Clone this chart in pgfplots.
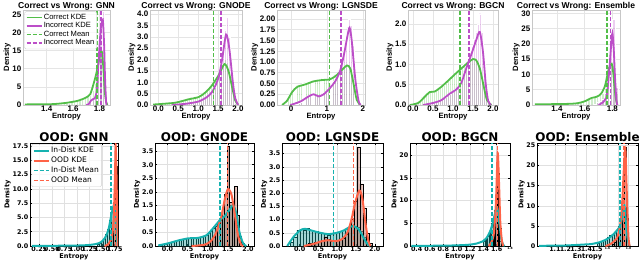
\documentclass[border=0pt]{standalone}
\usepackage{pgfplots}
\usepackage{pgfplotstable}
\pgfplotsset{compat=1.18}
\usepackage{fontspec}
\setmainfont{Liberation Sans}
\newfontfamily\dejavu{DejaVu Sans}
\definecolor{cgreen}{RGB}{82,190,72}
\definecolor{cmag}{RGB}{188,78,200}
\definecolor{cteal}{RGB}{22,178,176}
\definecolor{corange}{RGB}{255,99,71}

% ---------- histogram tables (bin left edge, series A, series B) ----------
\pgfplotstableread{
x g m
1.50 0.3 0
1.52 0.4 0
1.54 0.5 0
1.56 0.6 0
1.58 0.8 0
1.60 1.0 0
1.62 1.2 0
1.64 1.5 0
1.66 1.8 0
1.68 2.0 0
1.70 2.4 0.5
1.72 2.8 1.0
1.74 4.0 1.5
1.76 6.0 2.0
1.78 10.0 8.0
1.80 16.0 20.0
1.82 12.0 26.0
1.84 2.0 3.0
}\hTopGNN
\pgfplotstableread{
x g m
-0.10 0.02 0
-0.05 0.03 0
0.00 0.05 0
0.05 0.05 0
0.10 0.06 0
0.15 0.08 0
0.20 0.10 0
0.25 0.10 0
0.30 0.12 0
0.35 0.13 0.01
0.40 0.15 0.02
0.45 0.18 0.03
0.50 0.20 0.04
0.55 0.22 0.05
0.60 0.24 0.06
0.65 0.26 0.07
0.70 0.28 0.08
0.75 0.30 0.10
0.80 0.32 0.11
0.85 0.33 0.12
0.90 0.36 0.14
0.95 0.38 0.16
1.00 0.42 0.18
1.05 0.46 0.22
1.10 0.52 0.27
1.15 0.60 0.33
1.20 0.68 0.40
1.25 0.78 0.47
1.30 0.88 0.55
1.35 0.95 0.65
1.40 1.05 0.80
1.45 1.20 1.00
1.50 1.40 1.35
1.55 1.60 1.90
1.60 1.85 2.60
1.65 2.00 3.30
1.70 1.90 3.85
1.75 1.50 3.00
1.80 1.00 1.60
1.85 0.40 0.60
1.90 0.10 0.10
}\hTopGNODE
\pgfplotstableread{
x g m
-0.20 0.05 0
-0.15 0.10 0
-0.10 0.15 0
-0.05 0.25 0
0.00 0.30 0
0.05 0.35 0
0.10 0.40 0
0.15 0.45 0.03
0.20 0.47 0.05
0.25 0.48 0.07
0.30 0.50 0.10
0.35 0.52 0.14
0.40 0.50 0.18
0.45 0.53 0.22
0.50 0.55 0.25
0.55 0.56 0.27
0.60 0.57 0.25
0.65 0.58 0.22
0.70 0.60 0.20
0.75 0.58 0.22
0.80 0.60 0.24
0.85 0.62 0.27
0.90 0.60 0.30
0.95 0.62 0.35
1.00 0.63 0.40
1.05 0.62 0.45
1.10 0.65 0.50
1.15 0.68 0.55
1.20 0.70 0.62
1.25 0.72 0.70
1.30 0.75 0.80
1.35 0.80 0.95
1.40 0.85 1.10
1.45 0.90 1.30
1.50 0.95 1.55
1.55 0.98 1.80
1.60 0.95 2.00
1.65 0.85 1.85
1.70 0.60 1.40
1.75 0.35 0.80
1.80 0.12 0.30
1.85 0.03 0.08
}\hTopLGNSDE
\pgfplotstableread{
x g m
0.00 0.03 0
0.05 0.05 0
0.10 0.08 0
0.15 0.12 0
0.20 0.18 0
0.25 0.22 0
0.30 0.27 0.02
0.35 0.30 0.03
0.40 0.32 0.04
0.45 0.34 0.05
0.50 0.33 0.06
0.55 0.35 0.08
0.60 0.38 0.10
0.65 0.42 0.12
0.70 0.46 0.14
0.75 0.50 0.17
0.80 0.55 0.20
0.85 0.60 0.24
0.90 0.65 0.28
0.95 0.70 0.33
1.00 0.75 0.38
1.05 0.80 0.42
1.10 0.85 0.48
1.15 0.90 0.56
1.20 0.95 0.68
1.25 1.00 0.82
1.30 1.05 0.98
1.35 1.10 1.15
1.40 1.15 1.30
1.45 1.18 1.45
1.50 1.15 1.62
1.55 1.10 1.80
1.60 1.00 2.00
1.65 0.85 2.25
1.70 0.60 1.80
1.75 0.35 1.00
1.80 0.15 0.40
1.85 0.05 0.10
}\hTopBGCN
\pgfplotstableread{
x g m
1.50 0.4 0
1.52 0.5 0
1.54 0.6 0
1.56 0.8 0
1.58 1.2 0
1.60 1.6 0
1.62 2.0 0
1.64 2.4 0
1.66 2.6 0.3
1.68 2.8 0.8
1.70 3.2 1.2
1.72 4.0 2.0
1.74 5.5 4.0
1.76 9.0 12.0
1.78 14.0 22.0
1.80 13.0 28.0
1.82 4.0 6.0
}\hTopEns
\pgfplotstableread{
x i o
1.40 0.3 0
1.44 0.5 0
1.48 0.8 0
1.52 1.2 0
1.56 2.0 0
1.60 3.0 0.3
1.64 4.5 0.8
1.68 6.0 2.0
1.72 7.0 6.0
1.76 4.0 14.0
}\hBotGNN
\pgfplotstableread{
x i o
-0.20 0.03 0
-0.14 0.06 0
-0.08 0.08 0
-0.02 0.10 0
0.04 0.13 0
0.10 0.16 0
0.16 0.18 0
0.22 0.20 0
0.28 0.22 0
0.34 0.25 0
0.40 0.27 0
0.46 0.28 0
0.52 0.28 0
0.58 0.29 0.02
0.64 0.30 0.02
0.70 0.30 0.03
0.76 0.31 0.04
0.82 0.33 0.05
0.88 0.36 0.07
0.94 0.40 0.10
1.00 0.46 0.15
1.06 0.55 0.22
1.12 0.65 0.32
1.18 0.75 0.50
1.24 0.85 0.70
1.30 0.95 1.00
1.36 1.05 1.40
1.42 1.15 1.90
1.48 1.30 3.70
1.54 1.50 1.60
1.60 1.55 1.60
1.66 1.25 2.20
1.72 0.80 1.15
1.78 0.35 0.30
1.84 0.10 0.05
}\hBotGNODE
\pgfplotstableread{
x i o
-0.24 0.15 0
-0.16 0.35 0
-0.08 0.60 0
0.00 0.62 0
0.08 0.60 0
0.16 0.68 0.05
0.24 0.60 0.10
0.32 0.55 0.12
0.40 0.55 0.15
0.48 0.50 0.20
0.56 0.50 0.22
0.64 0.45 0.35
0.72 0.42 0.25
0.80 0.48 0.20
0.88 0.50 0.18
0.96 0.52 0.22
1.04 0.55 0.25
1.12 0.60 0.30
1.20 0.65 0.45
1.28 0.72 0.70
1.36 0.78 1.00
1.44 0.75 1.70
1.52 0.70 3.75
1.60 0.55 2.35
1.68 0.35 1.45
1.76 0.15 0.50
1.84 0.03 0.10
}\hBotLGNSDE
\pgfplotstableread{
x i o
1.40 1.0 0
1.42 1.3 0
1.44 1.6 0
1.46 2.2 0
1.48 3.0 0
1.50 4.0 0
1.52 5.0 1.0
1.54 6.0 2.0
1.56 8.0 4.0
1.58 9.0 10.0
1.60 7.0 19.0
1.62 3.0 16.0
1.64 1.0 4.0
}\hBotBGCN
\pgfplotstableread{
x i o
1.50 0.8 0
1.52 1.0 0
1.54 1.2 0
1.56 1.5 0
1.58 1.8 0
1.60 2.2 0
1.62 2.6 0
1.64 3.0 0.5
1.66 3.5 1.0
1.68 4.0 2.0
1.70 5.0 3.5
1.72 7.0 6.0
1.74 9.5 12.0
1.76 8.0 24.5
1.78 2.0 7.0
}\hBotEns

\pgfplotsset{
  base/.style={scale only axis, anchor=south west,
    /pgf/number format/assume math mode=true,
    grid=major, ymin=0, xlabel={Entropy}, ylabel={Density}},
  top/.style={base, height=95bp,
    grid style={draw=black!10, line width=0.6bp},
    axis line style={draw=black!22, line width=0.6bp},
    major tick length=0pt,
    tick label style={font=\fontsize{8}{8}\selectfont\bfseries},
    xticklabel style={inner sep=0.5bp},
    yticklabel style={inner sep=1.5bp},
    label style={font=\fontsize{7.7}{8}\selectfont\bfseries},
    xlabel style={inner sep=0bp, yshift=-1.5bp},
    ylabel style={inner sep=0bp},
    every axis title/.style={font=\fontsize{8.6}{9}\selectfont\bfseries, at={(0.5,1)}, anchor=base, yshift=1.8bp},
  },
  bot/.style={base, height=103bp,
    grid style={draw=black!12, line width=0.5bp},
    axis line style={draw=black, line width=0.7bp},
    major tick length=2bp, tick style={black, line width=0.5bp},
    tick label style={font=\dejavu\fontsize{6.4}{7}\selectfont\bfseries},
    xticklabel style={inner sep=1bp},
    yticklabel style={inner sep=1.5bp},
    label style={font=\dejavu\fontsize{6.6}{7}\selectfont\bfseries},
    xlabel style={inner sep=0bp, yshift=0bp},
    ylabel style={inner sep=0bp},
    every axis title/.style={font=\dejavu\fontsize{12}{13}\selectfont\bfseries, at={(0.5,1)}, anchor=base, yshift=1.3bp},
  },
  histg/.style={ybar, forget plot, fill=cgreen, fill opacity=0.28, draw=white, line width=0.2bp},
  histm/.style={ybar, forget plot, fill=cmag, fill opacity=0.28, draw=white, line width=0.2bp},
  histi/.style={ybar, forget plot, fill=cteal!70!gray, fill opacity=0.45, draw=cteal!40!black, line width=0.3bp},
  histo/.style={ybar, forget plot, fill=corange!45!gray, fill opacity=0.55, draw=black, line width=0.35bp},
  kde/.style={smooth, tension=0.45, line width=1.8bp, no marks},
  mean/.style={dash pattern=on 4bp off 2bp, line width=1.5bp, no marks, draw opacity=1},
  fx1/.style={xticklabel={\pgfmathprintnumber[fixed,fixed zerofill,precision=1]{\tick}}},
  fy1/.style={yticklabel={\pgfmathprintnumber[fixed,fixed zerofill,precision=1]{\tick}}},
  fy2/.style={yticklabel={\pgfmathprintnumber[fixed,fixed zerofill,precision=2]{\tick}}},
  fx2/.style={xticklabel={\pgfmathprintnumber[fixed,fixed zerofill,precision=2]{\tick}}},
  toplegend/.style={legend style={at={(0.015,0.985)}, anchor=north west, draw=black!18, rounded corners=1.5bp,
      fill=white, fill opacity=0.8, text opacity=1, font=\fontsize{7.6}{8}\selectfont,
      inner sep=1.2bp, row sep=-0.8bp, nodes={inner sep=1.3bp}},
    legend cell align=left,
    legend image code/.code={\draw[##1] (0bp,0bp) -- (15bp,0bp);}},
  botlegend/.style={legend style={at={(0.015,0.99)}, anchor=north west, draw=black!18, rounded corners=1.5bp,
      fill=white, fill opacity=0.8, text opacity=1, font=\dejavu\fontsize{7.6}{8}\selectfont,
      inner sep=1.3bp, row sep=0bp, nodes={inner sep=1.4bp}},
    legend cell align=left,
    legend image code/.code={\draw[##1] (0bp,0bp) -- (15bp,0bp);}},
}

\begin{document}
\begin{tikzpicture}[x=1bp,y=1bp]
\useasboundingbox (0,0) rectangle (640,263);

% ================= TOP ROW =================
\begin{axis}[top, at={(23bp,158bp)}, width=87bp, title={Correct vs Wrong: GNN},
  xmin=1.22, xmax=1.88, ymax=26.2, xtick={1.4,1.6,1.8}, ytick={0,5,...,25}, toplegend,
  legend entries={Correct KDE, Incorrect KDE, Correct Mean, Incorrect Mean}]
\addplot[histg, bar width=0.018, bar shift=0.01] table[x=x,y=g]{\hTopGNN};
\addplot[histm, bar width=0.018, bar shift=0.01] table[x=x,y=m]{\hTopGNN};
\addplot[kde, color=cgreen] coordinates {(1.235,0.15)(1.30,0.2)(1.40,0.2)(1.45,0.25)(1.50,0.4)(1.55,0.6)(1.60,0.9)(1.63,1.1)(1.67,1.6)(1.70,2.1)(1.73,3.0)(1.755,5.8)(1.775,8.5)(1.795,12)(1.81,14.6)(1.82,14.5)(1.83,10)(1.84,4)(1.85,1)(1.86,0)};
\addplot[kde, color=cmag] coordinates {(1.70,0)(1.72,0.3)(1.735,1.2)(1.75,1.6)(1.765,1.8)(1.78,4)(1.79,10)(1.80,16)(1.81,21)(1.825,23.6)(1.835,17)(1.842,8)(1.85,1)(1.855,0)};
\addplot[mean, color=cgreen] coordinates {(1.783,0)(1.783,26.2)};
\addplot[mean, color=cmag] coordinates {(1.811,0)(1.811,26.2)};
\end{axis}

\begin{axis}[top, fx1, fy1, at={(150bp,158bp)}, width=92bp, title={Correct vs Wrong: GNODE},
  xmin=-0.21, xmax=2.1, ymax=4.18, xtick={0,0.5,...,2}, ytick={0,0.5,...,4}]
\addplot[histg, bar width=0.045, bar shift=0.025] table[x=x,y=g]{\hTopGNODE};
\addplot[histm, bar width=0.045, bar shift=0.025] table[x=x,y=m]{\hTopGNODE};
\addplot[kde, color=cgreen] coordinates {(-0.13,0.02)(0.1,0.05)(0.42,0.1)(0.76,0.25)(1.01,0.35)(1.18,0.55)(1.34,0.85)(1.51,1.3)(1.66,1.8)(1.76,1.5)(1.85,0.8)(1.93,0.2)(2.0,0.02)};
\addplot[kde, color=cmag] coordinates {(0.34,0)(0.67,0.05)(1.0,0.15)(1.22,0.35)(1.36,0.6)(1.51,1.2)(1.6,2.0)(1.7,3.1)(1.78,2.5)(1.87,1.0)(1.93,0.3)(2.0,0)};
\addplot[mean, color=cgreen] coordinates {(1.39,0)(1.39,4.18)};
\addplot[mean, color=cmag] coordinates {(1.57,0)(1.57,4.18)};
\end{axis}

\begin{axis}[top, fy2, at={(277bp,158bp)}, width=88bp, title={Correct vs Wrong: LGNSDE},
  xmin=-0.39, xmax=2.06, ymax=2.21, xtick={0,1,2}, ytick={0,0.25,...,2}]
\addplot[histg, bar width=0.045, bar shift=0.025] table[x=x,y=g]{\hTopLGNSDE};
\addplot[histm, bar width=0.045, bar shift=0.025] table[x=x,y=m]{\hTopLGNSDE};
\addplot[kde, color=cgreen] coordinates {(-0.25,0)(-0.11,0.1)(0.03,0.3)(0.17,0.42)(0.4,0.48)(0.63,0.55)(0.86,0.58)(1.09,0.6)(1.28,0.7)(1.46,0.85)(1.56,0.92)(1.65,0.85)(1.74,0.5)(1.83,0.12)(1.93,0)};
\addplot[kde, color=cmag] coordinates {(-0.02,0)(0.26,0.08)(0.49,0.2)(0.63,0.25)(0.77,0.2)(0.91,0.25)(1.09,0.4)(1.23,0.55)(1.37,0.8)(1.48,1.2)(1.57,1.6)(1.63,1.8)(1.69,1.5)(1.79,0.6)(1.88,0.1)(1.94,0)};
\addplot[mean, color=cgreen] coordinates {(1.07,0)(1.07,2.21)};
\addplot[mean, color=cmag] coordinates {(1.39,0)(1.39,2.21)};
\end{axis}

\begin{axis}[top, fx1, fy1, at={(408bp,158bp)}, width=90bp, title={Correct vs Wrong: BGCN},
  xmin=-0.125, xmax=2.125, ymax=2.34, xtick={0,0.5,...,2}, ytick={0,0.5,...,2}]
\addplot[histg, bar width=0.045, bar shift=0.025] table[x=x,y=g]{\hTopBGCN};
\addplot[histm, bar width=0.045, bar shift=0.025] table[x=x,y=m]{\hTopBGCN};
\addplot[kde, color=cgreen] coordinates {(-0.08,0)(0.13,0.05)(0.29,0.2)(0.42,0.32)(0.54,0.33)(0.71,0.45)(0.88,0.6)(1.04,0.75)(1.21,0.9)(1.38,1.05)(1.5,1.13)(1.58,1.1)(1.67,0.9)(1.77,0.45)(1.85,0.12)(1.96,0)};
\addplot[kde, color=cmag] coordinates {(0.25,0)(0.5,0.05)(0.71,0.12)(0.92,0.28)(1.08,0.38)(1.21,0.55)(1.33,0.9)(1.46,1.25)(1.58,1.6)(1.67,1.8)(1.75,1.3)(1.82,0.5)(1.88,0.1)(1.95,0)};
\addplot[mean, color=cgreen] coordinates {(1.17,0)(1.17,2.34)};
\addplot[mean, color=cmag] coordinates {(1.40,0)(1.40,2.34)};
\end{axis}

\begin{axis}[top, at={(532bp,158bp)}, width=88bp, title={Correct vs Wrong: Ensemble},
  xmin=1.22, xmax=1.855, ymax=31.1, xtick={1.4,1.6,1.8}, ytick={0,5,...,30}]
\addplot[histg, bar width=0.018, bar shift=0.01] table[x=x,y=g]{\hTopEns};
\addplot[histm, bar width=0.018, bar shift=0.01] table[x=x,y=m]{\hTopEns};
\addplot[kde, color=cgreen] coordinates {(1.24,0.2)(1.30,0.25)(1.40,0.3)(1.50,0.4)(1.55,0.6)(1.60,1.2)(1.65,2.3)(1.68,2.6)(1.70,3.0)(1.72,3.8)(1.745,6)(1.76,9)(1.775,12)(1.795,13.5)(1.805,11)(1.815,6)(1.825,2)(1.835,0)};
\addplot[kde, color=cmag] coordinates {(1.70,0)(1.72,0.5)(1.735,1)(1.75,2)(1.76,3)(1.775,10)(1.79,19)(1.80,23.5)(1.81,18)(1.818,10)(1.828,2)(1.835,0)};
\addplot[mean, color=cgreen] coordinates {(1.76,0)(1.76,31.1)};
\addplot[mean, color=cmag] coordinates {(1.785,0)(1.785,31.1)};
\end{axis}

% ================= BOTTOM ROW =================
\begin{axis}[bot, fx2, fy1, at={(30bp,17bp)}, width=88bp, title={OOD: GNN},
  xmin=0.065, xmax=1.816, ymax=18.0, xtick={0.25,0.5,...,1.75}, ytick={0,2.5,...,17.5}, botlegend,
  legend entries={In-Dist KDE, OOD KDE, In-Dist Mean, OOD Mean}]
\addplot[histi, bar width=0.04, bar shift=0.02] table[x=x,y=i]{\hBotGNN};
\addplot[histo, bar width=0.04, bar shift=0.02] table[x=x,y=o]{\hBotGNN};
\addplot[kde, color=cteal, line width=2bp] coordinates {(0.1,0.02)(0.4,0.03)(0.7,0.05)(1.0,0.08)(1.2,0.15)(1.35,0.3)(1.45,0.55)(1.52,1.0)(1.58,1.8)(1.63,3.0)(1.67,4.8)(1.71,6.5)(1.745,7.2)(1.77,5)(1.79,2)(1.81,0.3)(1.82,0)};
\addplot[kde, color=corange, line width=2bp] coordinates {(1.55,0)(1.62,0.3)(1.67,1.0)(1.71,2.5)(1.735,6)(1.755,12)(1.77,17.5)(1.785,13)(1.80,5)(1.815,0.5)(1.82,0)};
\addplot[mean, color=cteal] coordinates {(1.68,0)(1.68,18)};
\addplot[mean, color=corange] coordinates {(1.77,0)(1.77,18)};
\end{axis}

\begin{axis}[bot, fx1, fy1, at={(155bp,17bp)}, width=99bp, title={OOD: GNODE},
  xmin=-0.31, xmax=2.15, ymax=3.8, xtick={0,0.5,...,2}, ytick={0,0.5,...,3.5}]
\addplot[histi, bar width=0.06, bar shift=0.03] table[x=x,y=i]{\hBotGNODE};
\addplot[histo, bar width=0.06, bar shift=0.03] table[x=x,y=o]{\hBotGNODE};
\addplot[kde, color=cteal, line width=2bp] coordinates {(-0.23,0.02)(0.02,0.1)(0.26,0.2)(0.51,0.28)(0.76,0.3)(0.97,0.4)(1.13,0.65)(1.3,0.95)(1.42,1.1)(1.55,1.35)(1.63,1.5)(1.71,1.2)(1.79,0.5)(1.88,0.1)(1.96,0)};
\addplot[kde, color=corange, line width=2bp] coordinates {(0.6,0)(0.93,0.05)(1.09,0.2)(1.21,0.5)(1.34,1.1)(1.42,1.7)(1.5,2.1)(1.59,1.9)(1.67,1.2)(1.75,0.4)(1.83,0.05)(1.88,0)};
\addplot[mean, color=cteal] coordinates {(1.30,0)(1.30,3.8)};
\addplot[mean, color=corange] coordinates {(1.49,0)(1.49,3.8)};
\end{axis}

\begin{axis}[bot, fx1, fy1, at={(282bp,17bp)}, width=101bp, title={OOD: LGNSDE},
  xmin=-0.47, xmax=2.22, ymax=3.9, xtick={0,0.5,...,2}, ytick={0,0.5,...,3.5}]
\addplot[histi, bar width=0.08, bar shift=0.04] table[x=x,y=i]{\hBotLGNSDE};
\addplot[histo, bar width=0.08, bar shift=0.04] table[x=x,y=o]{\hBotLGNSDE};
\addplot[kde, color=cteal, line width=2bp] coordinates {(-0.33,0)(-0.16,0.35)(0.02,0.6)(0.15,0.65)(0.33,0.58)(0.55,0.5)(0.77,0.45)(0.99,0.5)(1.16,0.58)(1.34,0.72)(1.44,0.75)(1.56,0.65)(1.67,0.4)(1.78,0.12)(1.87,0)};
\addplot[kde, color=corange, line width=2bp] coordinates {(0.11,0)(0.37,0.08)(0.59,0.18)(0.77,0.22)(0.94,0.18)(1.12,0.25)(1.27,0.5)(1.38,1.0)(1.47,1.6)(1.59,2.1)(1.67,1.8)(1.76,0.8)(1.83,0.2)(1.88,0)};
\addplot[mean, color=cteal] coordinates {(0.90,0)(0.90,3.9)};
\addplot[mean, color=corange] coordinates {(1.44,0)(1.44,3.9)};
\end{axis}

\begin{axis}[bot, at={(410bp,17bp)}, width=100bp, title={OOD: BGCN},
  xmin=0.3, xmax=1.8, ymax=22.7, xtick={0.4,0.6,0.8,1.0,1.2,1.4,1.6,1.8},
  xticklabels={0.4,0.6,0.8,1.0,1.2,1.4,1.6,{\fontsize{3}{3}\selectfont 1.8}}, ytick={0,5,...,20}]
\addplot[histi, bar width=0.02, bar shift=0.01] table[x=x,y=i]{\hBotBGCN};
\addplot[histo, bar width=0.02, bar shift=0.01] table[x=x,y=o]{\hBotBGCN};
\addplot[kde, color=cteal, line width=2bp] coordinates {(0.32,0.02)(0.6,0.05)(0.9,0.1)(1.1,0.2)(1.2,0.3)(1.3,0.55)(1.4,1.1)(1.45,1.8)(1.5,3.2)(1.54,5)(1.58,7.5)(1.61,8.5)(1.64,5)(1.67,1.5)(1.70,0.2)(1.72,0)};
\addplot[kde, color=corange, line width=2bp] coordinates {(1.48,0)(1.52,0.8)(1.56,3)(1.59,10)(1.615,20.5)(1.635,14)(1.655,5)(1.68,1)(1.70,0)};
\addplot[mean, color=cteal] coordinates {(1.533,0)(1.533,22.7)};
\addplot[mean, color=corange] coordinates {(1.61,0)(1.61,22.7)};
\end{axis}

\begin{axis}[bot, at={(537bp,17bp)}, width=101bp, title={OOD: Ensemble},
  xmin=0.93, xmax=1.89, ymax=25.6, xtick={1.1,1.2,1.3,1.4,1.5,1.6,1.7,1.8},
  xticklabels={1.1,1.2,1.3,1.4,1.5,{\fontsize{3}{3}\selectfont 1.6},{\fontsize{3}{3}\selectfont 1.7},{\fontsize{3}{3}\selectfont 1.8}}, ytick={0,5,...,25}]
\addplot[histi, bar width=0.02, bar shift=0.01] table[x=x,y=i]{\hBotEns};
\addplot[histo, bar width=0.02, bar shift=0.01] table[x=x,y=o]{\hBotEns};
\addplot[kde, color=cteal, line width=2bp] coordinates {(0.95,0.05)(1.1,0.08)(1.2,0.12)(1.3,0.25)(1.4,0.4)(1.45,0.5)(1.52,0.9)(1.58,1.5)(1.63,2.3)(1.66,3)(1.7,4.2)(1.72,5)(1.74,7)(1.76,10)(1.775,6)(1.79,2)(1.81,0)};
\addplot[kde, color=corange, line width=2bp] coordinates {(1.58,0)(1.63,0.5)(1.69,2)(1.72,5)(1.74,11)(1.757,20)(1.77,24)(1.78,16)(1.79,8)(1.80,2)(1.81,0)};
\addplot[mean, color=cteal] coordinates {(1.717,0)(1.717,25.6)};
\addplot[mean, color=corange] coordinates {(1.755,0)(1.755,25.6)};
\end{axis}
\end{tikzpicture}
\end{document}
